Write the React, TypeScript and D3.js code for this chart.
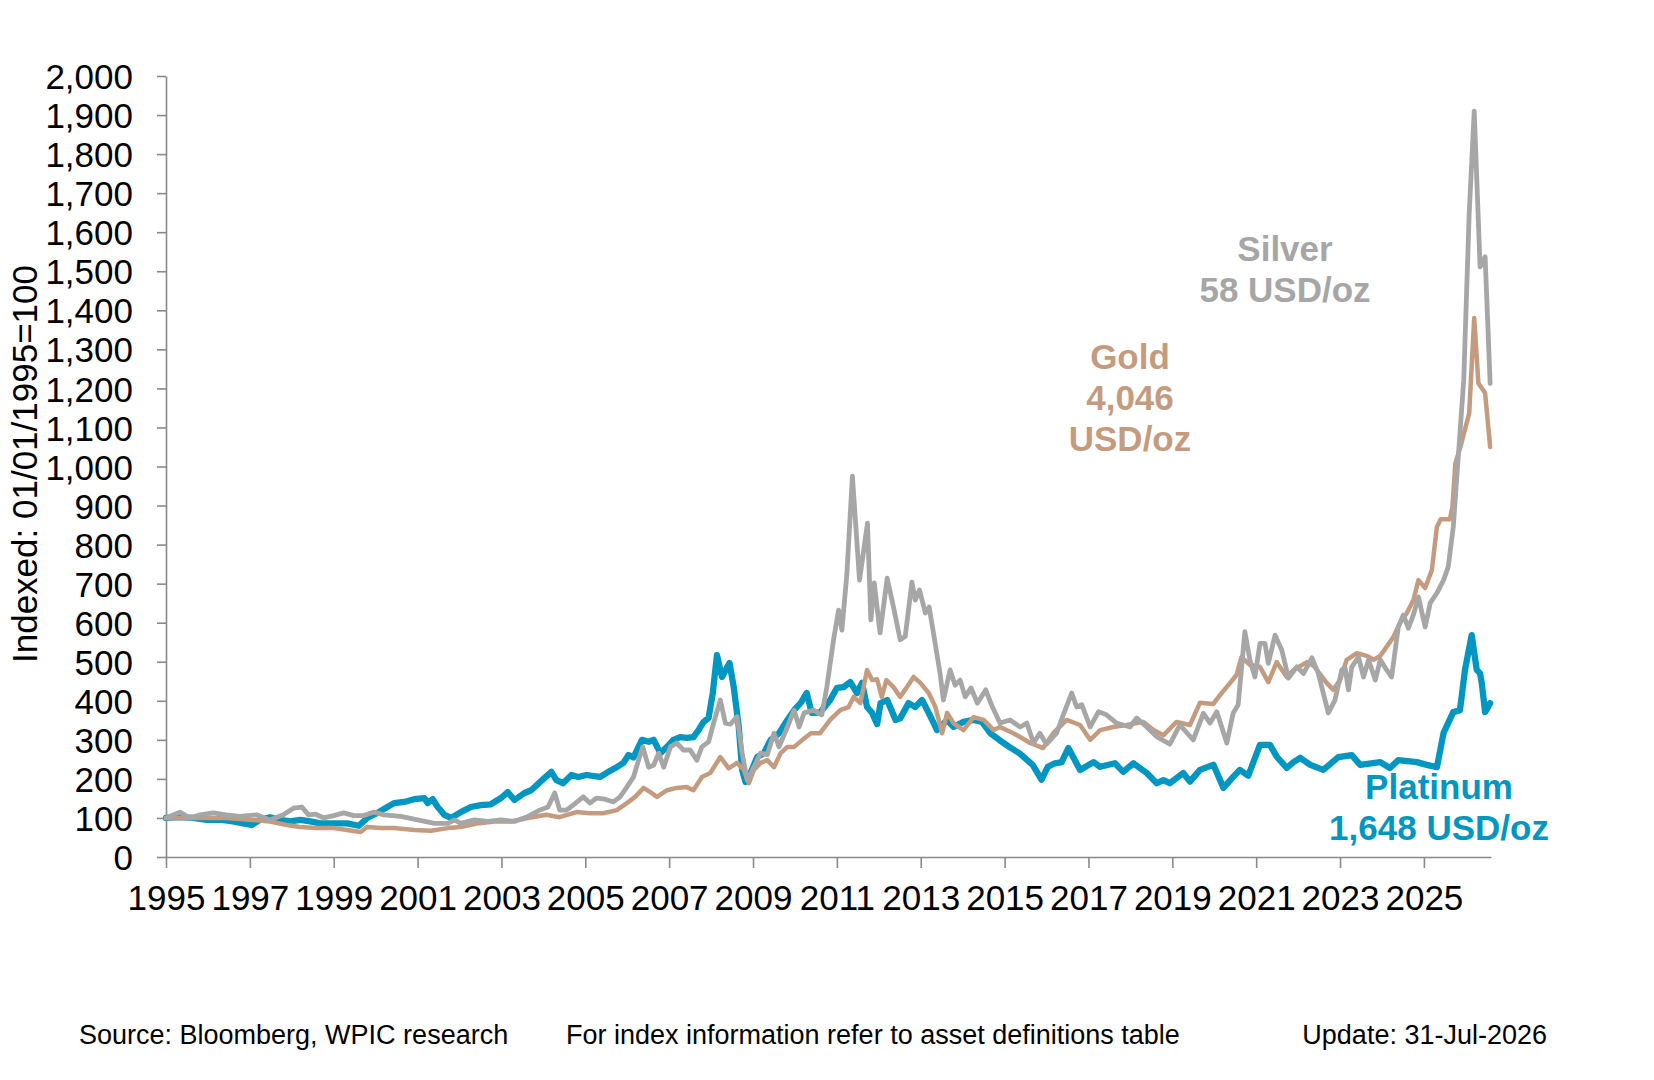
import { useEffect, useRef } from "react";
import * as d3 from "d3";

// values, indexed 01/01/1995 = 100
const platinum: [number, number][] = [
  [1995.0, 100], [1995.33, 102], [1995.65, 100], [1995.97, 95], [1996.29, 96], [1996.6, 91], [1996.84, 86],
  [1997.04, 82], [1997.24, 95], [1997.48, 102], [1997.72, 95], [1997.96, 91], [1998.2, 95], [1998.44, 91],
  [1998.68, 86], [1999.0, 86], [1999.32, 86], [1999.6, 80], [1999.8, 100], [2000.04, 113], [2000.28, 128],
  [2000.44, 138], [2000.68, 141], [2000.92, 148], [2001.16, 151], [2001.24, 138], [2001.36, 148], [2001.48, 128],
  [2001.64, 108], [2001.8, 100], [2002.03, 115], [2002.27, 128], [2002.51, 133], [2002.75, 135], [2002.99, 151],
  [2003.15, 166], [2003.31, 146], [2003.55, 164], [2003.71, 171], [2003.95, 195], [2004.19, 218], [2004.31, 197],
  [2004.47, 189], [2004.67, 210], [2004.83, 205], [2005.03, 210], [2005.35, 205], [2005.55, 218], [2005.75, 230],
  [2005.91, 241], [2006.03, 261], [2006.15, 255], [2006.35, 300], [2006.51, 295], [2006.63, 300], [2006.79, 266],
  [2006.95, 282], [2007.1, 300], [2007.26, 307], [2007.42, 305], [2007.58, 307], [2007.7, 325], [2007.82, 346],
  [2007.94, 356], [2008.04, 420], [2008.14, 517], [2008.26, 461], [2008.44, 497], [2008.54, 435], [2008.66, 333],
  [2008.74, 223], [2008.82, 192], [2008.94, 215], [2009.1, 256], [2009.26, 266], [2009.42, 300], [2009.62, 317],
  [2009.82, 351], [2009.98, 376], [2010.14, 395], [2010.28, 420], [2010.4, 369], [2010.6, 370], [2010.84, 402],
  [2011.0, 433], [2011.16, 435], [2011.32, 448], [2011.48, 420], [2011.6, 446], [2011.72, 384], [2011.84, 369],
  [2011.96, 340], [2012.04, 394], [2012.2, 402], [2012.4, 351], [2012.51, 355], [2012.71, 394], [2012.87, 384],
  [2013.03, 402], [2013.19, 369], [2013.39, 325], [2013.63, 351], [2013.78, 333], [2014.02, 346], [2014.26, 351],
  [2014.46, 346], [2014.66, 317], [2014.87, 300], [2015.11, 282], [2015.35, 266], [2015.67, 236], [2015.88, 198],
  [2016.03, 231], [2016.2, 240], [2016.36, 243], [2016.52, 279], [2016.8, 223], [2017.12, 243], [2017.28, 231],
  [2017.63, 240], [2017.83, 218], [2018.07, 240], [2018.39, 215], [2018.63, 189], [2018.79, 197], [2018.94, 189],
  [2019.26, 215], [2019.42, 193], [2019.66, 223], [2019.98, 236], [2020.22, 177], [2020.45, 205], [2020.61, 223],
  [2020.81, 208], [2021.09, 287], [2021.33, 287], [2021.49, 257], [2021.73, 228], [2021.89, 243], [2022.05, 254],
  [2022.29, 236], [2022.6, 223], [2022.96, 256], [2023.28, 261], [2023.48, 236], [2023.96, 243], [2024.19, 228],
  [2024.39, 248], [2024.83, 243], [2025.07, 236], [2025.31, 230], [2025.47, 318], [2025.7, 371], [2025.86, 376],
  [2025.98, 479], [2026.14, 568], [2026.26, 479], [2026.34, 470], [2026.38, 445], [2026.46, 371], [2026.58, 394],
];

const gold: [number, number][] = [
  [1995.0, 100], [1995.65, 100], [1996.44, 100], [1997.08, 95], [1997.48, 91], [1997.88, 82], [1998.2, 77],
  [1998.6, 74], [1999.0, 74], [1999.32, 69], [1999.64, 64], [1999.8, 77], [2000.12, 74], [2000.44, 74],
  [2000.92, 69], [2001.32, 67], [2001.72, 74], [2002.03, 77], [2002.43, 86], [2002.83, 91], [2003.23, 91],
  [2003.63, 100], [2004.07, 108], [2004.39, 102], [2004.79, 115], [2005.11, 112], [2005.43, 112], [2005.75, 120],
  [2005.99, 138], [2006.19, 154], [2006.39, 177], [2006.55, 166], [2006.71, 154], [2006.95, 171], [2007.18, 177],
  [2007.42, 179], [2007.58, 171], [2007.78, 205], [2007.98, 215], [2008.22, 256], [2008.42, 227], [2008.62, 241],
  [2008.78, 223], [2008.9, 189], [2009.02, 223], [2009.18, 241], [2009.34, 248], [2009.5, 230], [2009.66, 266],
  [2009.82, 282], [2009.98, 282], [2010.18, 300], [2010.38, 317], [2010.6, 317], [2010.84, 351], [2011.08, 376],
  [2011.28, 384], [2011.4, 410], [2011.56, 394], [2011.72, 479], [2011.84, 453], [2011.96, 455], [2012.07, 410],
  [2012.18, 453], [2012.35, 435], [2012.51, 410], [2012.67, 435], [2012.83, 461], [2012.99, 446], [2013.19, 420],
  [2013.35, 384], [2013.51, 317], [2013.63, 369], [2013.78, 343], [2014.02, 325], [2014.26, 358], [2014.5, 351],
  [2014.74, 325], [2014.89, 333], [2015.21, 317], [2015.61, 292], [2015.92, 279], [2016.16, 317], [2016.48, 351],
  [2016.8, 338], [2017.04, 300], [2017.28, 325], [2017.59, 333], [2017.91, 338], [2018.31, 346], [2018.55, 325],
  [2018.79, 312], [2019.1, 346], [2019.42, 338], [2019.66, 395], [2019.98, 392], [2020.14, 415], [2020.38, 446],
  [2020.53, 466], [2020.65, 512], [2020.85, 492], [2021.09, 487], [2021.29, 448], [2021.49, 499], [2021.73, 461],
  [2021.89, 479], [2022.21, 499], [2022.37, 490], [2022.68, 446], [2022.84, 428], [2023.0, 453], [2023.16, 505],
  [2023.4, 522], [2023.64, 515], [2023.8, 505], [2023.96, 515], [2024.11, 538], [2024.27, 563], [2024.43, 599],
  [2024.59, 624], [2024.75, 658], [2024.87, 709], [2025.03, 689], [2025.19, 735], [2025.31, 845], [2025.4, 865],
  [2025.62, 865], [2025.68, 896], [2025.75, 1008], [2025.87, 1050], [2026.08, 1136], [2026.2, 1380], [2026.3, 1213],
  [2026.46, 1188], [2026.58, 1050],
];

const silver: [number, number][] = [
  [1995.0, 100], [1995.33, 115], [1995.57, 100], [1995.81, 108], [1996.13, 113], [1996.44, 108], [1996.76, 104],
  [1997.16, 108], [1997.48, 95], [1997.8, 108], [1998.04, 125], [1998.24, 128], [1998.4, 108], [1998.56, 110],
  [1998.76, 100], [1999.0, 106], [1999.24, 113], [1999.48, 106], [1999.72, 106], [1999.96, 115], [2000.2, 108],
  [2000.6, 104], [2001.0, 95], [2001.4, 86], [2001.72, 86], [2001.88, 95], [2002.03, 86], [2002.35, 95],
  [2002.67, 91], [2002.99, 95], [2003.31, 91], [2003.63, 104], [2003.91, 120], [2004.11, 128], [2004.27, 164],
  [2004.39, 120], [2004.55, 120], [2004.71, 133], [2004.95, 154], [2005.11, 138], [2005.27, 151], [2005.47, 148],
  [2005.67, 141], [2005.83, 154], [2005.99, 179], [2006.15, 205], [2006.27, 248], [2006.37, 282], [2006.51, 230],
  [2006.63, 235], [2006.75, 266], [2006.87, 230], [2007.03, 282], [2007.18, 292], [2007.34, 274], [2007.5, 274],
  [2007.66, 248], [2007.78, 282], [2007.94, 295], [2008.06, 343], [2008.22, 402], [2008.34, 343], [2008.46, 340],
  [2008.62, 359], [2008.74, 266], [2008.86, 197], [2009.02, 230], [2009.18, 266], [2009.34, 262], [2009.5, 317],
  [2009.62, 282], [2009.82, 333], [2009.98, 376], [2010.1, 333], [2010.22, 369], [2010.44, 376], [2010.64, 364],
  [2010.76, 435], [2010.92, 556], [2011.04, 632], [2011.12, 581], [2011.24, 727], [2011.37, 975], [2011.45, 850],
  [2011.54, 709], [2011.64, 786], [2011.73, 855], [2011.81, 607], [2011.89, 702], [2012.03, 574], [2012.2, 714],
  [2012.35, 640], [2012.51, 556], [2012.63, 565], [2012.79, 704], [2012.87, 658], [2012.97, 684], [2013.11, 625],
  [2013.2, 640], [2013.3, 576], [2013.46, 471], [2013.54, 402], [2013.7, 479], [2013.82, 440], [2013.94, 453],
  [2014.06, 410], [2014.2, 433], [2014.35, 394], [2014.55, 428], [2014.71, 384], [2014.89, 343], [2015.13, 351],
  [2015.37, 333], [2015.53, 343], [2015.69, 292], [2015.84, 317], [2016.0, 289], [2016.24, 317], [2016.4, 364],
  [2016.6, 420], [2016.72, 384], [2016.84, 390], [2017.04, 333], [2017.24, 372], [2017.43, 364], [2017.67, 343],
  [2017.99, 333], [2018.15, 356], [2018.39, 333], [2018.63, 308], [2018.94, 289], [2019.18, 338], [2019.5, 300],
  [2019.74, 368], [2019.9, 343], [2020.06, 372], [2020.3, 292], [2020.45, 368], [2020.57, 390], [2020.73, 577],
  [2020.85, 504], [2020.97, 461], [2021.09, 547], [2021.21, 547], [2021.29, 496], [2021.45, 568], [2021.61, 530],
  [2021.77, 458], [2021.97, 487], [2022.13, 470], [2022.33, 510], [2022.48, 471], [2022.6, 420], [2022.72, 369],
  [2022.88, 402], [2023.04, 479], [2023.12, 485], [2023.2, 428], [2023.28, 487], [2023.44, 512], [2023.56, 461],
  [2023.68, 505], [2023.84, 453], [2023.96, 505], [2024.11, 479], [2024.23, 461], [2024.39, 589], [2024.51, 620],
  [2024.63, 586], [2024.75, 620], [2024.87, 666], [2025.03, 589], [2025.15, 650], [2025.31, 676], [2025.47, 709],
  [2025.58, 743], [2025.7, 845], [2025.95, 1221], [2026.08, 1648], [2026.2, 1910], [2026.34, 1511], [2026.46, 1537],
  [2026.58, 1213],
];

const yearTicks = d3.range(1995, 2026, 2);
const valueTicks = d3.range(0, 2001, 100);

const silverLabel = ["Silver", "58 USD/oz"];
const goldLabel = ["Gold", "4,046", "USD/oz"];
const platinumLabel = ["Platinum", "1,648 USD/oz"];

const COLORS = { platinum: "#0096c2", gold: "#c49b7e", silver: "#a6a6a6" };
const FONT = "'Liberation Sans', Arial, sans-serif";

export default function App() {
  const width = 1654;
  const height = 1080;
  const marginLeft = 166;
  const marginTop = 76;
  const plotBottom = 857;
  const yearWidth = 41.93;

  const gx = useRef(null);
  const gy = useRef(null);

  const x = d3.scaleLinear()
    .domain([1995, 2026.6])
    .range([marginLeft, marginLeft + 31.6 * yearWidth]);

  const y = d3.scaleLinear()
    .domain([0, 2000])
    .range([plotBottom, marginTop]);

  const line = d3.line<[number, number]>()
    .x(d => x(d[0]))
    .y(d => y(d[1]))
    .curve(d3.curveLinear);

  useEffect(() => {
    const g = d3.select(gx.current);
    g.selectAll("*").remove();
    g.call(d3.axisBottom(x).tickValues(yearTicks).tickFormat(d => String(d)).tickSize(11).tickSizeOuter(0).tickPadding(17))
      .call(g => g.select(".domain").attr("stroke", "#898989").attr("stroke-width", 1.6))
      .call(g => g.selectAll(".tick line").attr("stroke", "#898989").attr("stroke-width", 1.6))
      .call(g => g.selectAll(".tick text").attr("fill", "#000").style("font", `35px ${FONT}`));
  }, [gx, x]);

  useEffect(() => {
    const g = d3.select(gy.current);
    g.selectAll("*").remove();
    g.call(d3.axisLeft(y).tickValues(valueTicks).tickFormat(d3.format(",")).tickSize(9).tickSizeOuter(0).tickPadding(24))
      .call(g => g.select(".domain").attr("stroke", "#898989").attr("stroke-width", 1.6))
      .call(g => g.selectAll(".tick line").attr("stroke", "#898989").attr("stroke-width", 1.6))
      .call(g => g.selectAll(".tick text").attr("fill", "#000").attr("dy", "0.36em").style("font", `35px ${FONT}`));
  }, [gy, y]);

  const label = (lines: string[], cx: number, baseline: number, color: string) => (
    <text x={cx} y={baseline} textAnchor="middle" fill={color} fontFamily={FONT} fontSize={35} fontWeight="bold">
      {lines.map((t, i) => (
        <tspan key={t} x={cx} dy={i === 0 ? 0 : 41}>{t}</tspan>
      ))}
    </text>
  );

  return (
    <svg width={width} height={height} style={{ position: "absolute", left: 0, top: 0, background: "#fff" }}>
      <g ref={gy} transform={`translate(${marginLeft},0)`} />
      <g ref={gx} transform={`translate(0,${plotBottom})`} />

      <g fill="none" strokeLinejoin="round" strokeLinecap="round">
        <path d={line(platinum) ?? ""} stroke={COLORS.platinum} strokeWidth={6.3} />
        <path d={line(gold) ?? ""} stroke={COLORS.gold} strokeWidth={4.5} />
        <path d={line(silver) ?? ""} stroke={COLORS.silver} strokeWidth={4.8} />
      </g>

      <text transform="translate(37,464) rotate(-90)" textAnchor="middle" fontFamily={FONT} fontSize={35} fill="#000">
        Indexed: 01/01/1995=100
      </text>

      {label(silverLabel, 1285, 261, COLORS.silver)}
      {label(goldLabel, 1130, 369, COLORS.gold)}
      {label(platinumLabel, 1439, 799, COLORS.platinum)}

      <g fontFamily={FONT} fontSize={27} fill="#000">
        <text x={79} y={1044}>Source: Bloomberg, WPIC research</text>
        <text x={566} y={1044}>For index information refer to asset definitions table</text>
        <text x={1547} y={1044} textAnchor="end">Update: 31-Jul-2026</text>
      </g>
    </svg>
  );
}
